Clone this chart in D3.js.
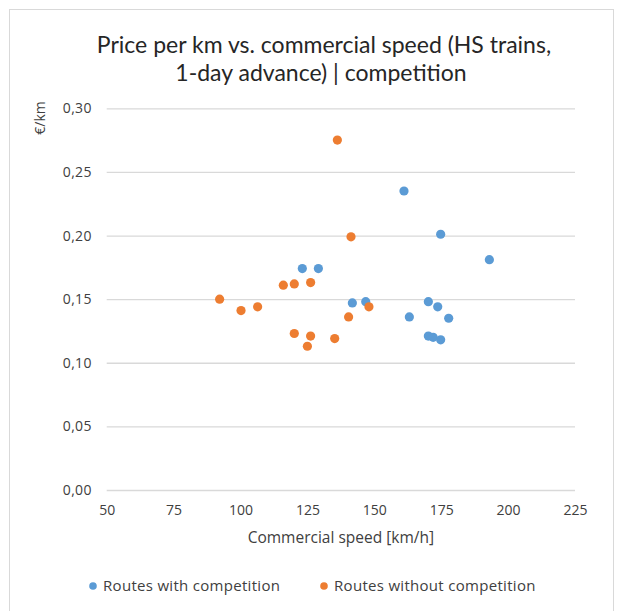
<!DOCTYPE html>
<html>
<head>
<meta charset="utf-8">
<script src="https://cdn.jsdelivr.net/npm/d3@7"></script>
<style>
  html, body { margin: 0; padding: 0; background: #fff; }
  svg { display: block; }
</style>
</head>
<body>
<svg id="chart" width="618" height="611"></svg>
<script>
// Commercial speed [km/h] and price per km [€/km]
const withCompSpeed = [161.1, 174.8, 193.0, 123.1, 129.1, 141.8, 146.8, 170.2, 173.7, 163.1, 177.8, 170.2, 172.0, 174.8];
const withCompPrice = [0.235, 0.201, 0.181, 0.174, 0.174, 0.147, 0.148, 0.148, 0.144, 0.136, 0.135, 0.121, 0.120, 0.118];
const withoutCompSpeed = [136.2, 141.3, 116.0, 120.1, 126.2, 92.2, 100.2, 106.4, 148.0, 140.4, 120.1, 126.2, 135.2, 125.0];
const withoutCompPrice = [0.275, 0.199, 0.161, 0.162, 0.163, 0.150, 0.141, 0.144, 0.144, 0.136, 0.123, 0.121, 0.119, 0.113];

const xTicks = [50, 75, 100, 125, 150, 175, 200, 225];
const yTicks = [0, 0.05, 0.10, 0.15, 0.20, 0.25, 0.30];
const seriesNames = ["Routes with competition", "Routes without competition"];
const seriesColors = ["#5b9bd5", "#ed7d31"];

const svg = d3.select("#chart");
const font = "'Open Sans', 'DejaVu Sans', sans-serif";
const textColor = "#404040";

// outer chart border
svg.append("rect")
  .attr("x", 9.5).attr("y", 9.5).attr("width", 604).attr("height", 612)
  .attr("fill", "#fff").attr("stroke", "#d9d9d9").attr("stroke-width", 1);

const plot = { left: 106.7, right: 575, top: 108.3, bottom: 490 };

const x = d3.scaleLinear().domain([50, 225]).range([plot.left, plot.right]);
const y = d3.scaleLinear().domain([0, 0.30]).range([plot.bottom, plot.top]);

// horizontal gridlines with value labels
const yAxis = d3.axisLeft(y)
  .tickValues(yTicks)
  .tickSize(-(plot.right - plot.left))
  .tickPadding(15)
  .tickFormat(d => d3.format(".2f")(d).replace(".", ","));
const gy = svg.append("g").attr("transform", `translate(${plot.left},0)`).call(yAxis);
gy.select(".domain").remove();
gy.selectAll(".tick line").attr("stroke", "#d9d9d9").attr("stroke-width", 1.3);
gy.selectAll(".tick text")
  .attr("fill", textColor).attr("font-family", font).attr("font-size", 14)
  .attr("letter-spacing", 0.3);

const xAxis = d3.axisBottom(x).tickValues(xTicks).tickSize(0).tickPadding(15);
const gx = svg.append("g").attr("transform", `translate(0,${plot.bottom})`).call(xAxis);
gx.select(".domain").remove();
gx.selectAll(".tick text")
  .attr("fill", textColor).attr("font-family", font).attr("font-size", 14);

// title
const title = svg.append("text")
  .attr("text-anchor", "middle").attr("font-family", "Lato, 'Open Sans', sans-serif")
  .attr("font-size", 23).attr("fill", "#262626");
title.append("tspan").attr("x", 324).attr("y", 53).text("Price per km vs. commercial speed (HS trains,");
title.append("tspan").attr("x", 321).attr("y", 81).text("1-day advance) | competition");

// axis titles
svg.append("text")
  .attr("x", (plot.left + plot.right) / 2).attr("y", 543)
  .attr("text-anchor", "middle").attr("font-family", font).attr("font-size", 15.5)
  .attr("fill", textColor).text("Commercial speed [km/h]");

svg.append("text")
  .attr("transform", "translate(45,118) rotate(-90)")
  .attr("text-anchor", "middle").attr("font-family", font).attr("font-size", 14)
  .attr("fill", textColor).text("€/km");

// points
const series = [
  { speed: withCompSpeed, price: withCompPrice },
  { speed: withoutCompSpeed, price: withoutCompPrice }
];
series.forEach((s, i) => {
  svg.append("g").selectAll("circle")
    .data(s.speed.map((v, j) => [v, s.price[j]]))
    .join("circle")
    .attr("cx", d => x(d[0]))
    .attr("cy", d => y(d[1]))
    .attr("r", 4.6)
    .attr("fill", seriesColors[i]);
});

// legend
const legendPos = [93, 324];
seriesNames.forEach((name, i) => {
  const g = svg.append("g").attr("transform", `translate(${legendPos[i]},586)`);
  g.append("circle").attr("r", 3.8).attr("fill", seriesColors[i]);
  g.append("text").attr("x", 10).attr("dy", "0.35em")
    .attr("font-family", font).attr("font-size", 15).attr("letter-spacing", 0.3)
    .attr("fill", textColor).text(name);
});
</script>
</body>
</html>
